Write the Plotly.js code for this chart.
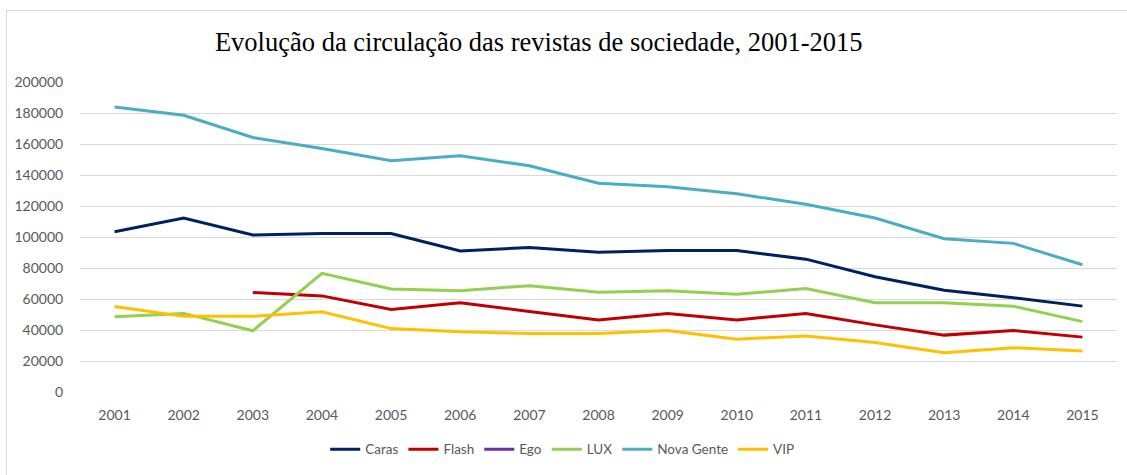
<!DOCTYPE html>
<html>
<head>
<meta charset="utf-8">
<script src="https://cdn.plot.ly/plotly-3.0.1.min.js"></script>
<style>
html,body{margin:0;padding:0;background:#fff;overflow:hidden;}
#frame{position:absolute;left:6px;top:10px;width:1300px;height:700px;border:1px solid #d9d9d9;}
#chart{position:absolute;left:0;top:0;width:1127px;height:475px;}
</style>
</head>
<body>
<div id="frame"></div>
<div id="chart"></div>
<script>
const years = ['2001','2002','2003','2004','2005','2006','2007','2008','2009','2010','2011','2012','2013','2014','2015'];
const caras = [103400,112300,101300,102300,102300,91000,93200,90200,91300,91300,85700,74400,65700,60800,55400];
const flash = [null,null,64200,62000,53300,57600,52000,46500,50700,46500,50700,43300,36700,39700,35400];
const ego = [null,null,null,null,null,null,null,null,null,null,null,null,null,null,null];
const lux = [48600,50700,39500,76600,66500,65400,68600,64400,65400,63100,66700,57600,57600,55400,45400];
const novaGente = [183800,178500,164200,157100,149200,152400,146000,134700,132400,127900,121100,112300,98900,95900,82100];
const vip = [55200,48800,48800,51800,40900,38800,37700,37700,39700,34100,36200,32000,25400,28600,26400];

const seriesNames = ['Caras','Flash','Ego','LUX','Nova Gente','VIP'];
const seriesData = [caras, flash, ego, lux, novaGente, vip];
const colors = ['#002060','#C00000','#7030A0','#92D050','#4BACC6','#FFC000'];

const traces = seriesNames.map((n,i)=>({
  type:'scatter', mode:'lines', name:n, x:years, y:seriesData[i],
  line:{color:colors[i], width:3}, connectgaps:false, showlegend:true
}));

const tickFont = {family:'Lato, Carlito, Calibri, sans-serif', size:14, color:'#595959'};

const layout = {
  width:1127, height:475,
  margin:{l:80, r:10, t:82, b:80},
  paper_bgcolor:'rgba(0,0,0,0)', plot_bgcolor:'rgba(0,0,0,0)',
  title:{text:'Evolução da circulação das revistas de sociedade, 2001-2015',
    font:{family:'Liberation Serif, Times New Roman, serif', size:26.5, color:'#000'},
    x:0.478, xanchor:'center', y:0.912, yanchor:'middle'},
  xaxis:{type:'category', range:[-0.5,14.5], showgrid:false, zeroline:false, showline:false,
    ticks:'outside', ticklen:10, tickcolor:'rgba(0,0,0,0)', tickfont:tickFont},
  yaxis:{range:[0,200000], dtick:20000, tick0:0, tickformat:'d',
    showgrid:true, gridcolor:'#d9d9d9', gridwidth:1, zeroline:false, showline:false,
    ticks:'outside', ticklen:13, tickcolor:'rgba(0,0,0,0)', tickfont:tickFont},
  legend:{orientation:'h', x:0.465, xanchor:'center', y:-0.185, yanchor:'middle',
    font:{family:'Lato, Carlito, Calibri, sans-serif', size:13.5, color:'#595959'},
    bgcolor:'rgba(0,0,0,0)'},
  showlegend:true
};

Plotly.newPlot('chart', traces, layout, {displayModeBar:false, staticPlot:true});
</script>
</body>
</html>
